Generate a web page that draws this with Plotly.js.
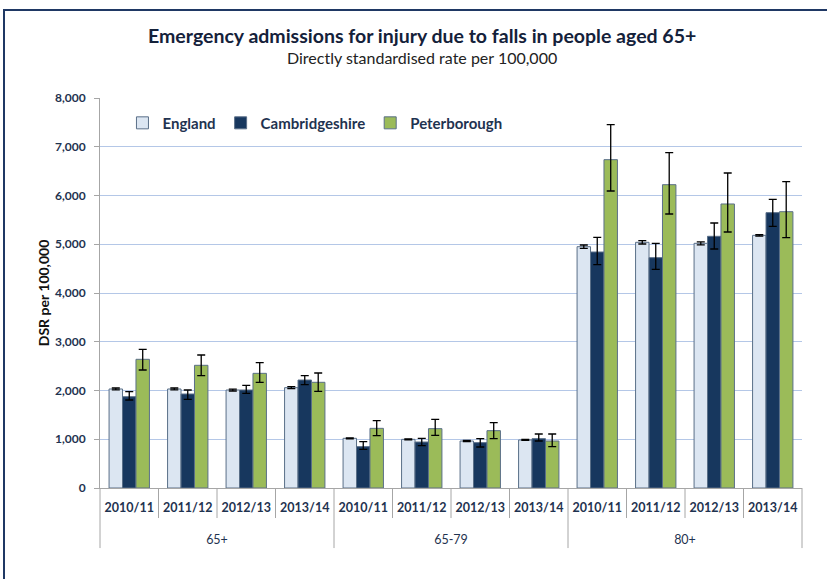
<!DOCTYPE html>
<html>
<head>
<meta charset="utf-8">
<script src="https://cdn.plot.ly/plotly-3.0.1.min.js"></script>
<style>
  html, body { margin: 0; padding: 0; background: #fff; }
  #chart { position: absolute; left: 0; top: 0; width: 827px; height: 579px; }
  #frame { position: absolute; left: 3px; top: 9px; width: 900px; height: 700px;
           border: 2px solid #1F3864; pointer-events: none; }
</style>
</head>
<body>
<div id="chart"></div>
<div id="frame"></div>
<script>
// ---- data ----
const years = ['2010/11', '2011/12', '2012/13', '2013/14'];
const ageGroups = ['65+', '65-79', '80+'];

const england      = [2031, 2031, 2010, 2058, 1019, 998, 964, 985, 4950, 5040, 5019, 5183];
const englandUpper = [2051, 2051, 2030, 2078, 1029, 1008, 974, 995, 4985, 5075, 5049, 5198];
const englandLower = [2011, 2011, 1990, 2038, 1009, 988, 954, 975, 4915, 5005, 4989, 5168];

const cambs      = [1873, 1928, 2010, 2215, 848, 943, 930, 1012, 4841, 4725, 5163, 5648];
const cambsUpper = [1975, 2010, 2106, 2304, 950, 1019, 1012, 1108, 5142, 5019, 5436, 5921];
const cambsLower = [1805, 1819, 1942, 2120, 793, 868, 841, 964, 4581, 4485, 4903, 5368];

const peter      = [2640, 2517, 2352, 2168, 1224, 1217, 1176, 964, 6735, 6222, 5826, 5668];
const peterUpper = [2845, 2728, 2571, 2359, 1381, 1409, 1340, 1108, 7453, 6878, 6462, 6283];
const peterLower = [2420, 2304, 2168, 1983, 1073, 1080, 1012, 848, 6092, 5621, 5251, 5135];

// ---- build multicategory x ----
const sz = s => '<span style="font-size:12.5px">' + s + '</span>';
const xGroup = [], xYear = [];
ageGroups.forEach(g => years.forEach(y => {
  xGroup.push(' <br>' + sz(g));
  xYear.push(sz('<b>' + y + '</b>'));
}));
const x = [xGroup, xYear];

function trace(name, vals, up, lo, fill) {
  return {
    type: 'bar', name: name, x: x, y: vals,
    marker: { color: fill, line: { color: '#5A6F88', width: 1 } },
    error_y: {
      type: 'data', symmetric: false,
      array: vals.map((v, i) => up[i] - v),
      arrayminus: vals.map((v, i) => v - lo[i]),
      color: '#000', thickness: 1.3, width: 4
    },
    hoverinfo: 'y'
  };
}

const data = [
  trace('England', england, englandUpper, englandLower, '#DCE6F2'),
  trace('Cambridgeshire', cambs, cambsUpper, cambsLower, '#17375E'),
  trace('Peterborough', peter, peterUpper, peterLower, '#9BBB59')
];

// separators between year categories (decorative)
const shapes = [];
const nCat = xYear.length;
for (let i = 0; i <= nCat; i++) {
  const isGroup = (i % years.length === 0);
  shapes.push({
    type: 'line', xref: 'paper', yref: 'paper',
    x0: i / nCat, x1: i / nCat, y0: 0, y1: isGroup ? -0.154 : -0.077,
    line: { color: '#A6A6A6', width: 1 }
  });
}

const fontFam = 'Lato, "Open Sans", sans-serif';
const navy = '#1F3350';
const layout = {
  width: 827, height: 579,
  margin: { l: 100, r: 25, t: 98, b: 91 },
  paper_bgcolor: '#fff', plot_bgcolor: '#fff',
  font: { family: fontFam, color: navy },
  barmode: 'group', bargap: 0.31, bargroupgap: 0,
  showlegend: true,
  legend: {
    orientation: 'h', x: 0.032, y: 0.978, xanchor: 'left', yanchor: 'top',
    font: { family: fontFam, size: 15, color: navy, weight: 'bold' },
    bgcolor: 'rgba(0,0,0,0)', traceorder: 'normal'
  },
  xaxis: {
    type: 'multicategory',
    showline: true, linecolor: '#A6A6A6', linewidth: 1,
    showdividers: false,
    ticks: '', ticklabelstandoff: 5,
    tickangle: 0,
    showgrid: false,
    tickfont: { family: fontFam, size: 15, color: navy }
  },
  yaxis: {
    range: [0, 8000], dtick: 1000, tickformat: ',d',
    showgrid: true, gridcolor: '#B4C7E7', gridwidth: 1,
    showline: true, linecolor: '#A6A6A6', linewidth: 1,
    ticks: 'outside', ticklen: 5, tickcolor: '#A6A6A6',
    ticklabelstandoff: 6,
    zeroline: false,
    tickfont: { family: fontFam, size: 12, color: navy, weight: 'bold' },
    title: { text: '<b>DSR per 100,000</b>', font: { family: fontFam, size: 14, color: '#111' }, standoff: 2 }
  },
  shapes: shapes,
  annotations: [
    { xref: 'paper', yref: 'paper', x: 0.4587, y: 1.159, xanchor: 'center', yanchor: 'middle',
      showarrow: false, text: '<b>Emergency admissions for injury due to falls in people aged 65+</b>',
      font: { family: fontFam, size: 19.5, color: '#14213A' } },
    { xref: 'paper', yref: 'paper', x: 0.4587, y: 1.1026, xanchor: 'center', yanchor: 'middle',
      showarrow: false, text: 'Directly standardised rate per 100,000',
      font: { family: fontFam, size: 16, color: '#222' } }
  ]
};

Plotly.newPlot('chart', data, layout, { displayModeBar: false, staticPlot: true });
</script>
</body>
</html>
